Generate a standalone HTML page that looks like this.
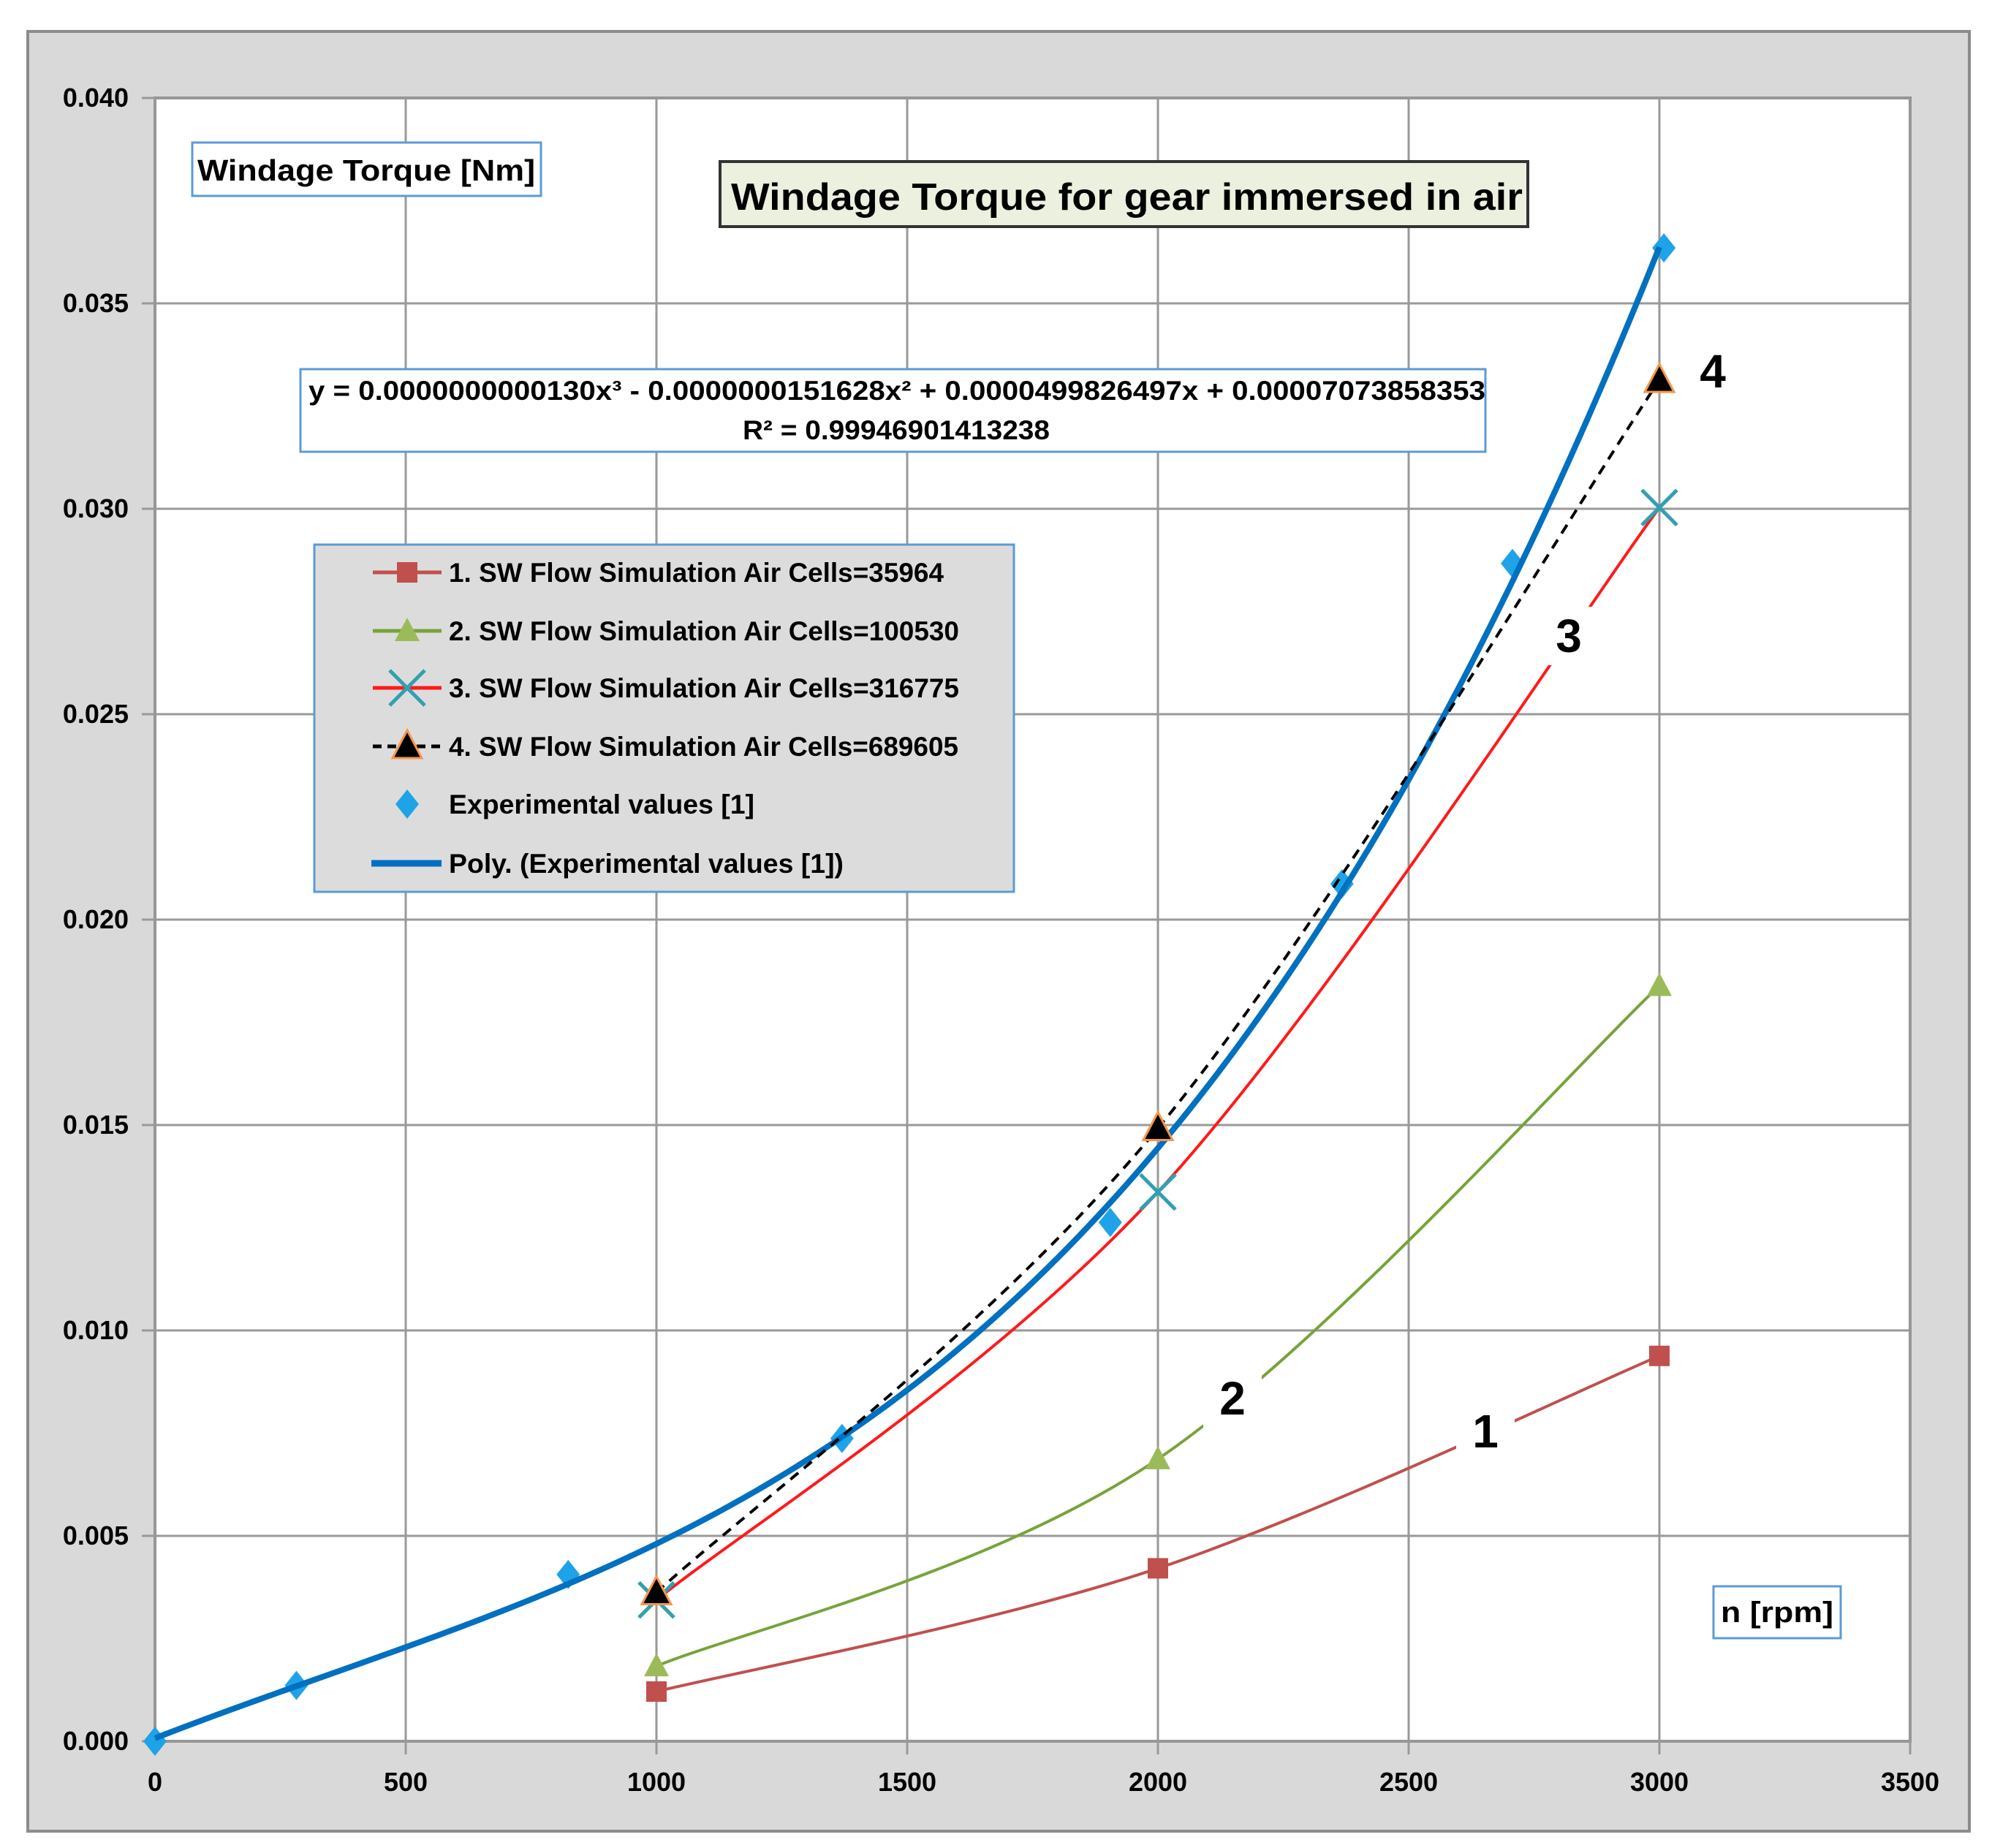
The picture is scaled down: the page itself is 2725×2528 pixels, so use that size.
<!DOCTYPE html>
<html><head><meta charset="utf-8"><style>
html,body{margin:0;padding:0;background:#fff}
svg{display:block}
text{font-family:"Liberation Sans",sans-serif;font-weight:bold;fill:#000}
</style></head><body>
<svg id="chart" width="2725" height="2528" viewBox="0 0 2725 2528" xmlns="http://www.w3.org/2000/svg">
<rect x="38" y="43" width="2656" height="2462" fill="#d9d9d9" stroke="#8c8c8c" stroke-width="4"/>
<rect x="212" y="134" width="2401" height="2248" fill="#fff" stroke="#8c8c8c" stroke-width="4"/>
<g id="grid"></g>
<g id="ticks"></g>
<g id="series"></g>
<g id="labels"></g>
<g>
<rect x="263" y="195" width="477" height="73" fill="#fff" stroke="#5b9bd5" stroke-width="3"/>
<text x="270" y="247" font-size="41" textLength="462" lengthAdjust="spacingAndGlyphs">Windage Torque [Nm]</text></g>
<g>
<rect x="985" y="221" width="1105" height="89" fill="#ebf1de" stroke="#333" stroke-width="4"/>
<text x="1000" y="287" font-size="52" textLength="1083" lengthAdjust="spacingAndGlyphs">Windage Torque for gear immersed in air</text></g>
<g>
<rect x="411" y="505" width="1621" height="113" fill="#fff" stroke="#5b9bd5" stroke-width="3"/>
<text x="422" y="547" font-size="37" textLength="1610" lengthAdjust="spacingAndGlyphs">y = 0.0000000000130x³ - 0.0000000151628x² + 0.0000499826497x + 0.00007073858353</text>
<text x="1016" y="601" font-size="37" textLength="420" lengthAdjust="spacingAndGlyphs">R² = 0.99946901413238</text></g>
<g>
<rect x="2344" y="2170" width="174" height="71" fill="#fff" stroke="#5b9bd5" stroke-width="3"/>
<text x="2354" y="2219" font-size="40" textLength="154" lengthAdjust="spacingAndGlyphs">n [rpm]</text></g>
<g id="legend">
<rect x="430" y="745" width="957" height="475" fill="#dcdcdc" stroke="#5b9bd5" stroke-width="3"/>
</g>
</svg>
<script>
const NS='http://www.w3.org/2000/svg';
const xTicks=[0,500,1000,1500,2000,2500,3000,3500];
const yTicks=[0,0.005,0.010,0.015,0.020,0.025,0.030,0.035,0.040];
const yTickLabels=['0.000','0.005','0.010','0.015','0.020','0.025','0.030','0.035','0.040'];
const simX=[1000,2000,3000];
const s1=[0.00121,0.00421,0.00938];
const s2=[0.00183,0.00687,0.01839];
const s3=[0.00344,0.01337,0.03003];
const s4=[0.00362,0.01492,0.03313];
const expX=[0,282,824,1370,1905,2367,2707,3009];
const expY=[0,0.00136,0.00406,0.00737,0.01263,0.02087,0.02867,0.03635];
const legendNames=['1. SW Flow Simulation Air Cells=35964','2. SW Flow Simulation Air Cells=100530','3. SW Flow Simulation Air Cells=316775','4. SW Flow Simulation Air Cells=689605','Experimental values [1]','Poly. (Experimental values [1])'];
const X0=212,X1=2613,Y0=2382,Y1=134;
const sx=v=>X0+(v/3500)*(X1-X0);
const sy=v=>Y0-(v/0.04)*(Y0-Y1);
function mk(tag,attrs,parent){const e=document.createElementNS(NS,tag);for(const k in attrs)e.setAttribute(k,attrs[k]);parent.appendChild(e);return e;}
const grid=document.getElementById('grid'),ticks=document.getElementById('ticks'),ser=document.getElementById('series'),lab=document.getElementById('labels'),leg=document.getElementById('legend');
xTicks.forEach(t=>{const l=mk('line',{x1:sx(t),x2:sx(t),y1:Y1,y2:Y0+18,stroke:'#999','stroke-width':3},grid);

const tx=mk('text',{x:sx(t),y:2450,'font-size':36,'text-anchor':'middle'},ticks);tx.textContent=String(t);
});
yTicks.forEach((t,i)=>{const l=mk('line',{x1:X0-18,x2:X1,y1:sy(t),y2:sy(t),stroke:'#999','stroke-width':3},grid);

const tx=mk('text',{x:176,y:sy(t)+12,'font-size':36,'text-anchor':'end'},ticks);tx.textContent=yTickLabels[i];
});
function smooth(pts){let d='M'+pts[0][0]+','+pts[0][1];for(let i=0;i<pts.length-1;i++){const p0=pts[i-1]||pts[i],p1=pts[i],p2=pts[i+1],p3=pts[i+2]||p2;
const c1=[p1[0]+(p2[0]-p0[0])/6,p1[1]+(p2[1]-p0[1])/6],c2=[p2[0]-(p3[0]-p1[0])/6,p2[1]-(p3[1]-p1[1])/6];
d+=' C'+c1+' '+c2+' '+p2;}return d;}
function marker(type,x,y,g){
 if(type==='square'){return mk('rect',{x:x-14,y:y-14,width:28,height:28,fill:'#c0504d'},g);}
 if(type==='tri'){return mk('polygon',{points:`${x},${y-18} ${x+17},${y+14} ${x-17},${y+14}`,fill:'#9bbb59'},g);}
 if(type==='tri4'){return mk('polygon',{points:`${x},${y-22} ${x+20},${y+16} ${x-20},${y+16}`,fill:'#000',stroke:'#f79646','stroke-width':3},g);}
 if(type==='x'){return mk('path',{d:`M${x-24},${y-24}L${x+24},${y+24}M${x+24},${y-24}L${x-24},${y+24}`,stroke:'#31a0b0','stroke-width':5,fill:'none'},g);}
 if(type==='diamond'){return mk('polygon',{points:`${x},${y-20} ${x+16},${y} ${x},${y+20} ${x-16},${y}`,fill:'#1fa3e8'},g);}
}
// least-squares cubic trendline from experimental data (scaled x in thousands)
function fitCubic(xs,ys){const n=4,A=[],b=[];for(let i=0;i<n;i++){A.push(new Array(n).fill(0));b.push(0);}
 xs.forEach((x0,k)=>{const x=x0/1000;const p=[1,x,x*x,x*x*x];for(let i=0;i<n;i++){b[i]+=p[i]*ys[k];for(let j=0;j<n;j++)A[i][j]+=p[i]*p[j];}});
 for(let i=0;i<n;i++){let m=i;for(let r=i+1;r<n;r++)if(Math.abs(A[r][i])>Math.abs(A[m][i]))m=r;[A[i],A[m]]=[A[m],A[i]];[b[i],b[m]]=[b[m],b[i]];
  for(let r=0;r<n;r++){if(r===i)continue;const f=A[r][i]/A[i][i];for(let c=i;c<n;c++)A[r][c]-=f*A[i][c];b[r]-=f*b[i];}}
 return b.map((v,i)=>v/A[i][i]);}
const cf=fitCubic(expX,expY);
const poly=v=>{const x=v/1000;return cf[0]+cf[1]*x+cf[2]*x*x+cf[3]*x*x*x;};
const sims=[[s1,'#c0504d',4,null,'square','series-1'],[s2,'#77a33a',4,null,'tri','series-2'],[s3,'#ff1a1a',4,null,'x','series-3'],[s4,'#000',4,'14,10','tri4','series-4']];
const pp=[];for(let v=0;v<=3010;v+=20){pp.push([sx(v),sy(Math.max(0,poly(v)))]);}
sims.slice(0,3).forEach(s=>{const g=mk('g',{},ser);
 const pts=simX.map((v,i)=>[sx(v),sy(s[0][i])]);const p=mk('path',{d:smooth(pts),fill:'none',stroke:s[1],'stroke-width':s[2]},g);
 
 pts.forEach(q=>{const m=marker(s[4],q[0],q[1],g);});});
const ge=mk('g',{},ser);
expX.forEach((v,i)=>{const m=marker('diamond',sx(v),sy(expY[i]),ge);});
const gp=mk('g',{},ser);
const tl=mk('path',{d:'M'+pp.map(p=>p.join(',')).join(' L'),fill:'none',stroke:'#0070c0','stroke-width':8},gp);

const s=sims[3];{const g=mk('g',{},ser);
 const pts=simX.map((v,i)=>[sx(v),sy(s[0][i])]);const p=mk('path',{d:smooth(pts),fill:'none',stroke:s[1],'stroke-width':s[2],'stroke-dasharray':s[3]},g);
 
 pts.forEach(q=>{const m=marker(s[4],q[0],q[1],g);});}
[['1',2032,1980,true],['2',1686,1935,true],['3',2146,892,true],['4',2343,530,false]].forEach(a=>{
 if(a[3]){const r=mk('rect',{x:a[1]-40,y:a[2]-62,width:80,height:80,fill:'#fff'},lab);}
 const t=mk('text',{x:a[1],y:a[2],'font-size':64,'text-anchor':'middle'},lab);t.textContent=a[0];
 });
const rowsY=[783,863,941,1021,1100,1181];
legendNames.forEach((n,i)=>{const y=rowsY[i];const g=mk('g',{},leg);
 if(i<4){const sd=sims[i];const l=mk('line',{x1:510,x2:604,y1:y,y2:y,stroke:sd[1],'stroke-width':5},g);if(sd[3])l.setAttribute('stroke-dasharray','12,8');
  
  const m=marker(sd[4],557,y,g);}
 else if(i===4){const m=marker('diamond',557,y,g);}
 else{const l=mk('line',{x1:508,x2:604,y1:y,y2:y,stroke:'#0070c0','stroke-width':9},g);}
 const t=mk('text',{x:614,y:y+13,'font-size':37},g);t.textContent=n;
 const w=[677,698,698,697,418,540][i];t.setAttribute('textLength',w);t.setAttribute('lengthAdjust','spacingAndGlyphs');
 });
</script>
</body></html>
